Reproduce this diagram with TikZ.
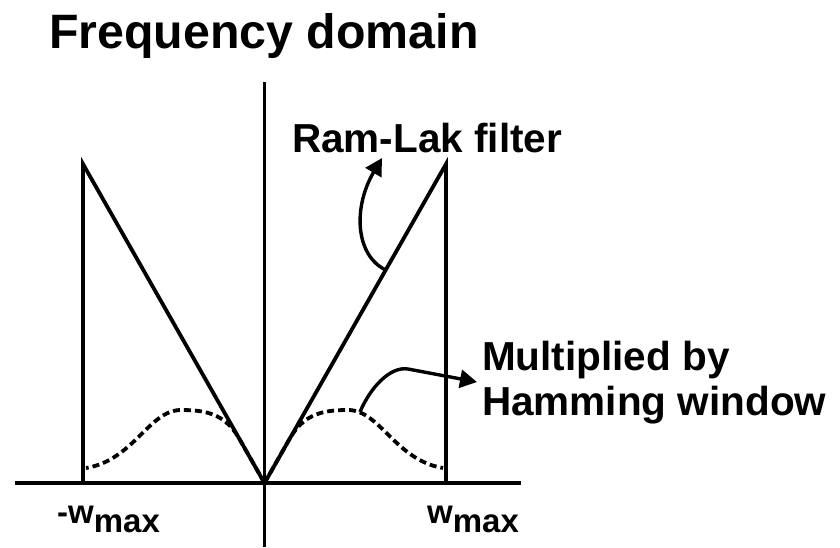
\documentclass[tikz,border=0pt]{standalone}
\usepackage{fontspec}
\setmainfont{Liberation Sans}
\usetikzlibrary{arrows.meta}
\begin{document}
\begin{tikzpicture}[x=1pt,y=-1pt,
  axisline/.style={line width=3.8pt},
  curveline/.style={line width=3.8pt,dash pattern=on 7pt off 4pt},
  pointer/.style={line width=3.4pt,-{Triangle[length=17pt,width=18pt]}},
  lbl/.style={anchor=base west,inner sep=0pt,font=\bfseries\fontsize{40.5}{46}\selectfont},
  ttl/.style={anchor=base west,inner sep=0pt,font=\bfseries\fontsize{48.3}{58}\selectfont},
  wlbl/.style={anchor=base west,inner sep=0pt,font=\bfseries\fontsize{33}{40}\selectfont}]
\useasboundingbox (0,0) rectangle (840,547);
% coordinates
\coordinate (O) at (264.5,483);
\coordinate (ytop) at (264.5,82);
\coordinate (ybot) at (264.5,547);
\coordinate (xl) at (15,483);
\coordinate (xr) at (521,483);
\coordinate (ltop) at (83,164);
\coordinate (lbot) at (83,483);
\coordinate (rtop) at (446,164);
\coordinate (rbot) at (446,483);
% texts
\node[ttl] (title) at (49,48) {Frequency domain};
\node[lbl] (ramlak) at (292,152) {Ram-Lak filter};
\node[lbl] (mult) at (482,370) {Multiplied by};
\node[lbl] (hamm) at (482,415) {Hamming window};
\node[wlbl] (wneg) at (57,523) {-w\raisebox{-9pt}{max}};
\node[wlbl] (wpos) at (427,523) {w\raisebox{-9pt}{max}};
% axes
\draw[axisline] (ytop) -- (ybot);
\draw[axisline] (xl) -- (xr);
% Ram-Lak filter
\draw[axisline] (lbot) -- (ltop) -- (O) -- (rtop) -- (rbot);
% Hamming windowed filter
\draw[curveline] (O) -- (290.7,437) .. controls (305,413) and (325,410) .. (348,410)
  .. controls (380,410) and (395,460) .. (443,468);
\draw[curveline] (O) -- (238.3,437) .. controls (224,413) and (204,410) .. (181,410)
  .. controls (149,410) and (134,460) .. (86,468);
% pointers
\coordinate (rlstart) at (385.7,270);
\coordinate (rltip) at (382,158);
\draw[pointer] (rlstart) .. controls (355,255) and (353,207) .. (rltip);
\coordinate (hmstart) at (360,412);
\coordinate (hmtip) at (477,382);
\draw[pointer] (hmstart) .. controls (370,388) and (390,366) .. (408,369) -- (hmtip);
\end{tikzpicture}
\end{document}
